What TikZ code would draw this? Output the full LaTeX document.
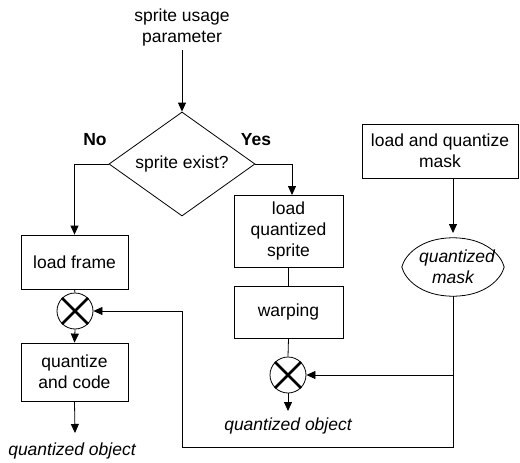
\documentclass[tikz,border=0pt]{standalone}
\usepackage{fontspec}
\setmainfont{Liberation Sans}
\usetikzlibrary{shapes.geometric,arrows.meta}

\begin{document}
\begin{tikzpicture}[x=1pt,y=-1pt,
  every node/.style={font=\fontsize{17.5}{21}\selectfont, inner sep=0pt},
  line/.style={line width=0.8pt},
  arr/.style={line, -{Triangle[length=9pt,width=8pt]}},
  box/.style={draw, line width=0.8pt, align=center, inner sep=0pt},
  decision/.style={draw, line width=0.8pt, diamond, aspect=1.4,
    minimum width=146pt, minimum height=104pt, inner sep=0pt},
  mixer/.style={draw, line width=0.8pt, circle, minimum size=36pt, inner sep=0pt},
  outlabel/.style={font=\fontsize{17.5}{21}\selectfont\itshape},
  branch/.style={font=\fontsize{17.5}{21}\selectfont\bfseries}
]
\useasboundingbox (0,0) rectangle (520,463);

% input and decision
\node[align=center] (param) at (182,27) {sprite usage\\parameter};
\node[decision] (dec) at (182,164) {sprite exist?};
\node[branch] (no) at (95,140) {No};
\node[branch] (yes) at (256,140) {Yes};

% left branch: no sprite
\node[box, minimum width=107pt, minimum height=54pt] (frame) at (74.5,262) {load frame};
\node[mixer] (cL) at (75,311) {};
\node[box, minimum width=107pt, minimum height=58pt] (qcode) at (74.5,372) {quantize\\and code};
\node[outlabel] (outL) at (72,451) {quantized object};
\coordinate (outLtip) at (75,433);

% right branch: sprite available
\node[box, minimum width=109pt, minimum height=72pt] (sprite) at (288.5,231) {load\\quantized\\sprite};
\node[box, minimum width=109pt, minimum height=52pt] (warp) at (288.5,312) {warping};
\node[mixer] (cR) at (288,375) {};
\node[outlabel] (outR) at (288,426) {quantized object};
\coordinate (outRtip) at (288,411);

% mask path
\node[box, minimum width=156pt, minimum height=54pt] (maskbox) at (440,151) {load and quantize\\mask};
\node[align=center, font=\fontsize{17.5}{21}\selectfont\itshape,
      minimum width=102pt, minimum height=58pt] (mask) at (453,267) {\hspace*{8pt}quantized\\mask};
\draw[line] (mask.west) .. controls +(3,-12) and +(-32,0) .. (mask.north)
  .. controls +(32,0) and +(-3,-12) .. (mask.east)
  .. controls +(-3,12) and +(32,0) .. (mask.south)
  .. controls +(-32,0) and +(3,12) .. (mask.west) -- cycle;

% crossing marks of the mixers
\foreach \c in {cL,cR}{
  \draw[line width=2.6pt] (\c.45) -- (\c.225) (\c.135) -- (\c.315);
}

% connectors
\draw[arr] (param.south |- 0,50) -- (dec.north);
\draw[arr] (dec.west) -| (frame.north);
\draw[arr] (dec.east) -| (292,195);
\draw[line] (frame.south) -- (cL.north);
\draw[arr] (cL.south) -- (qcode.north);
\draw[arr] (qcode.south) -- (outLtip);
\draw[line] (sprite.south) -- (warp.north);
\draw[line] (warp.south) -- (cR.north);
\draw[arr] (cR.south) -- (outRtip);
\draw[arr] (453,178) -- (453,233);
\coordinate (j1) at (mask.south |- cR.east);
\coordinate (j3) at (182,447);
\draw[arr] (j1) -- (cR.east);
\draw[arr] (mask.south) |- (j3) |- (cL.east);
\end{tikzpicture}
\end{document}
